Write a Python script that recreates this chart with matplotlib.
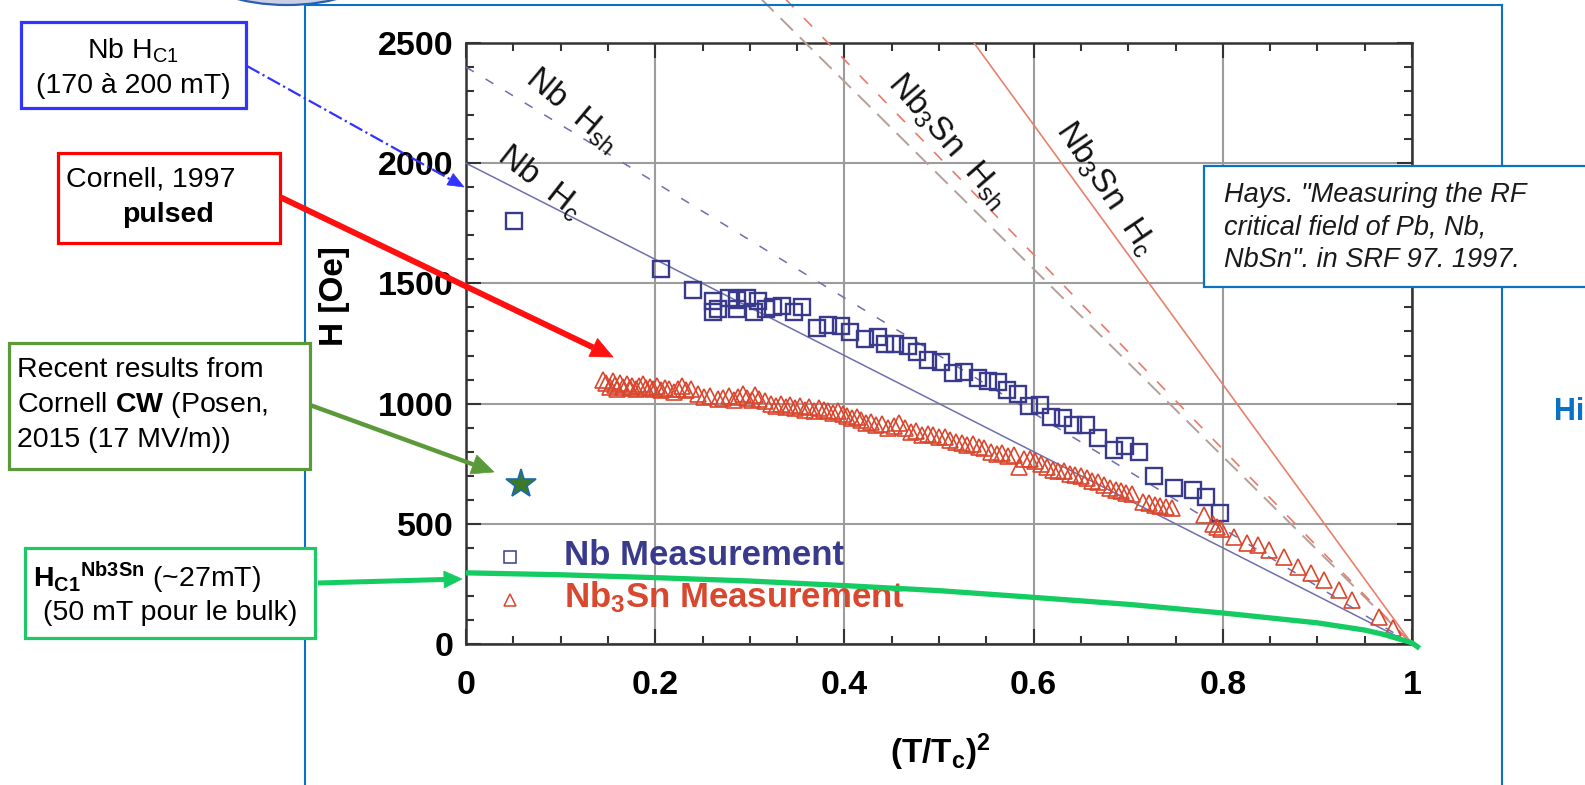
import matplotlib
matplotlib.use('Agg')
import matplotlib.pyplot as plt
from matplotlib.patches import Rectangle, Ellipse, Polygon
from matplotlib.ticker import MultipleLocator
import numpy as np

plt.rcParams['font.family'] = ['Liberation Sans', 'DejaVu Sans']
plt.rcParams['mathtext.fontset'] = 'custom'
plt.rcParams['mathtext.rm'] = 'Liberation Sans'
plt.rcParams['mathtext.it'] = 'Liberation Sans:italic'
plt.rcParams['mathtext.bf'] = 'Liberation Sans:bold'

# ---------------- data ----------------
x_ticks = [0, 0.2, 0.4, 0.6, 0.8, 1.0]
x_tick_labels = ['0', '0.2', '0.4', '0.6', '0.8', '1']
y_ticks = [0, 500, 1000, 1500, 2000, 2500]
y_tick_labels = ['0', '500', '1000', '1500', '2000', '2500']

nb_x = [0.051, 0.206, 0.240, 0.261, 0.261, 0.266, 0.278, 0.286, 0.286, 0.297,
        0.304, 0.309, 0.317, 0.325, 0.334, 0.347, 0.355, 0.371, 0.383, 0.396,
        0.406, 0.422, 0.436, 0.443, 0.454, 0.467, 0.477, 0.488, 0.502, 0.515,
        0.526, 0.541, 0.552, 0.562, 0.572, 0.583, 0.595, 0.607, 0.618, 0.631,
        0.642, 0.655, 0.668, 0.685, 0.697, 0.711, 0.727, 0.748, 0.768, 0.782,
        0.797]
nb_h = [1758, 1558, 1471, 1425, 1383, 1392, 1441, 1433, 1392, 1441,
        1379, 1425, 1392, 1400, 1404, 1379, 1400, 1313, 1329, 1321,
        1296, 1267, 1275, 1246, 1246, 1238, 1213, 1183, 1175, 1129,
        1133, 1108, 1092, 1088, 1058, 1038, 988, 996, 946, 942,
        913, 913, 858, 808, 825, 800, 700, 650, 642, 613,
        546]

sn_x = [0.145, 0.148, 0.152, 0.155, 0.158, 0.160, 0.163, 0.166, 0.170, 0.173,
        0.176, 0.180, 0.183, 0.187, 0.190, 0.194, 0.198, 0.202, 0.206, 0.210,
        0.215, 0.220, 0.224, 0.228, 0.233, 0.238, 0.245, 0.252, 0.258, 0.266,
        0.272, 0.278, 0.283, 0.288, 0.293, 0.297, 0.302, 0.306, 0.310, 0.316,
        0.322, 0.328, 0.333, 0.338, 0.343, 0.348, 0.353, 0.358, 0.363, 0.368,
        0.373, 0.378, 0.383, 0.388, 0.393, 0.398, 0.403, 0.408, 0.413, 0.418,
        0.423, 0.428, 0.433, 0.440, 0.446, 0.452, 0.458, 0.464, 0.470, 0.476,
        0.482, 0.488, 0.494, 0.500, 0.506, 0.512, 0.518, 0.524, 0.530, 0.536,
        0.542, 0.548, 0.555, 0.561, 0.567, 0.573, 0.579, 0.585, 0.590, 0.596,
        0.602, 0.608, 0.614, 0.620, 0.626, 0.632, 0.638, 0.644, 0.650, 0.656,
        0.662, 0.668, 0.674, 0.681, 0.687, 0.692, 0.698, 0.704, 0.716, 0.722,
        0.728, 0.734, 0.740, 0.746, 0.780, 0.790, 0.794, 0.798, 0.812, 0.826,
        0.837, 0.849, 0.865, 0.879, 0.893, 0.907, 0.923, 0.937, 0.965, 0.980]
sn_h = [1100, 1085, 1070, 1092, 1078, 1062, 1085, 1070, 1080, 1066,
        1075, 1060, 1072, 1080, 1064, 1070, 1062, 1074, 1058, 1066,
        1060, 1050, 1062, 1075, 1055, 1060, 1040, 1028, 1030, 1018,
        1022, 1030, 1015, 1026, 1040, 1022, 1015, 1035, 1020, 1010,
        1000, 992, 1000, 985, 995, 980, 990, 975, 985, 970,
        982, 975, 968, 960, 970, 958, 950, 940, 945, 930,
        920, 925, 910, 915, 900, 905, 918, 900, 880, 885,
        870, 875, 868, 860, 862, 850, 840, 835, 828, 832,
        820, 815, 800, 790, 795, 780, 786, 735, 770, 768,
        760, 748, 738, 725, 720, 718, 708, 704, 700, 690,
        680, 672, 660, 650, 640, 635, 628, 625, 590, 585,
        580, 575, 570, 565, 537, 500, 487, 478, 446, 421,
        412, 392, 362, 321, 296, 267, 225, 183, 112, 67]

star_x = [0.058]
star_h = [667]

hc1_x = [0.0, 0.1, 0.2, 0.3, 0.4, 0.5, 0.6, 0.7, 0.8, 0.9, 0.95, 0.97, 1.0, 1.008]
hc1_h = [296, 288, 276, 262, 243, 222, 194, 165, 129, 88, 58, 40, 5, -18]

nb_hc_x, nb_hc_h = [0.0, 1.0], [2000, 0]
nb_hsh_x, nb_hsh_h = [0.0, 1.0], [2400, 0]
sn_hsh_a_x, sn_hsh_a_h = [0.30, 1.0], [2730, 0]
sn_hsh_b_x, sn_hsh_b_h = [0.33, 1.0], [2714, 0]
sn_hc_x, sn_hc_h = [0.0, 1.0], [5400, 0]

# ---------------- figure ----------------
W, H = 1585, 785
fig = plt.figure(figsize=(W / 100, H / 100), dpi=100)
fig.patch.set_facecolor('white')

ax = fig.add_axes([466 / W, 1 - 644 / H, 946 / W, 601 / H], zorder=2)
ax.set_xlim(0, 1)
ax.set_ylim(0, 2500)
ax.grid(True, which='major', color='#9c9c9c', lw=1.5)
ax.set_axisbelow(True)
for s in ax.spines.values():
    s.set_color('#333333')
    s.set_linewidth(1.8)
ax.xaxis.set_minor_locator(MultipleLocator(0.05))
ax.yaxis.set_minor_locator(MultipleLocator(100))
ax.tick_params(which='both', direction='in', top=True, right=True,
               color='#333333', width=1.5)
ax.tick_params(which='major', length=11)
ax.tick_params(which='minor', length=6)
ax.set_xticks(x_ticks, x_tick_labels, fontsize=24.5, fontweight='bold')
ax.set_yticks(y_ticks, y_tick_labels, fontsize=24.5, fontweight='bold')
ax.tick_params(axis='x', which='major', pad=19)
ax.tick_params(axis='y', which='major', pad=9)

navy = '#3a3a8c'
nbline = '#6f6fae'
red = '#d9472e'

# theory lines
ax.plot(nb_hc_x, nb_hc_h, color=nbline, lw=1.1, zorder=3)
ax.plot(nb_hsh_x, nb_hsh_h, color=nbline, lw=1.1, dashes=(6, 9), zorder=3)
ax.plot(sn_hsh_a_x, sn_hsh_a_h, color='#b3a098', lw=1.4, dashes=(9, 5),
        clip_on=False, zorder=3)
ax.plot(sn_hsh_b_x, sn_hsh_b_h, color='#e97a68', lw=1.2, dashes=(7, 9),
        clip_on=False, zorder=3)
ax.plot(sn_hc_x, sn_hc_h, color='#e8806c', lw=1.2, zorder=3)

# data
ax.plot(nb_x, nb_h, 's', mfc='none', mec=navy, mew=1.7, ms=12, zorder=4)
ax.plot(sn_x, sn_h, '^', mfc='none', mec=red, mew=1.2, ms=11, zorder=4)
ax.plot(star_x, star_h, '*', mfc='#3b7a2a', mec='#1a6ab0', mew=1.2, ms=22,
        zorder=5)
ax.plot(hc1_x, hc1_h, color='#14cc62', lw=3.8, clip_on=False, zorder=6,
        solid_capstyle='butt')

# legend
ax.plot([0.047], [362], 's', mfc='none', mec=navy, mew=1.1, ms=8.5)
ax.plot([0.047], [185], '^', mfc='none', mec=red, mew=1.1, ms=8.5)
ax.text(0.104, 367, 'Nb Measurement', color=navy, fontsize=25,
        fontweight='bold', va='center', ha='left')
ax.text(0.104, 194, r'Nb$_{\mathbf{3}}$Sn Measurement', color=red,
        fontsize=25, fontweight='bold', va='center', ha='left')

# rotated line labels
lab = dict(color='#111111', fontsize=24, ha='center', va='center',
           rotation_mode='anchor')
ax.text(0.112, 2222, r'Nb  H$_{\mathrm{sh}}$', rotation=-40, **lab)
ax.text(0.078, 1922, r'Nb  H$_{\mathrm{c}}$', rotation=-38, **lab)
ax.text(0.509, 2095, r'Nb$_{\mathrm{3}}$Sn  H$_{\mathrm{sh}}$', rotation=-49, **lab)
ax.text(0.676, 1895, r'Nb$_{\mathrm{3}}$Sn  H$_{\mathrm{c}}$', rotation=-56, **lab)

# ---------------- overlay (slide decorations, pixel coords) ----------------
ov = fig.add_axes([0, 0, 1, 1], zorder=5)
ov.set_xlim(0, W)
ov.set_ylim(H, 0)
ov.axis('off')
ov.patch.set_alpha(0)

blue_frame = '#0a72c4'
ov.plot([305, 305], [5, H], color=blue_frame, lw=1.5)
ov.plot([305, 1502], [5, 5], color=blue_frame, lw=1.5)
ov.plot([1502, 1502], [5, H], color=blue_frame, lw=1.5)
ov.add_patch(Ellipse((287, -28), 172, 66, facecolor='#c9cfe4',
                     edgecolor='#2a5db0', lw=1.6, clip_on=False))

# Hays reference box
ov.add_patch(Rectangle((1204, 166), 420, 121, facecolor='white',
                       edgecolor=blue_frame, lw=1.6, zorder=3))
hays = ['Hays. "Measuring the RF', 'critical field of Pb, Nb,',
        'NbSn". in SRF 97. 1997.']
for i, t in enumerate(hays):
    ov.text(1224, 195 + 32.5 * i, t, fontsize=19.5, style='italic',
            color='#1a1a1a', va='center', ha='left', zorder=4)
ov.text(1554, 412, 'Hi', fontsize=22, fontweight='bold', color=blue_frame,
        va='center', ha='left')

# annotation boxes
def box(x0, y0, x1, y1, color):
    ov.add_patch(Rectangle((x0, y0), x1 - x0, y1 - y0, facecolor='white',
                           edgecolor=color, lw=2.3, zorder=3))

def arrow(start, tip, color, lw, hl, hw, ls='-'):
    sx, sy = start
    tx, ty = tip
    d = np.array([tx - sx, ty - sy], dtype=float)
    u = d / np.hypot(*d)
    n = np.array([-u[1], u[0]])
    base = np.array([tx, ty]) - hl * u
    ov.plot([sx, base[0]], [sy, base[1]], color=color, lw=lw, ls=ls,
            solid_capstyle='butt', zorder=6)
    ov.add_patch(Polygon([[tx, ty], base + hw * n, base - hw * n],
                         closed=True, facecolor=color, edgecolor=color,
                         lw=0.5, zorder=6))

fs = 20.5
# Nb Hc1
box(21, 22, 246, 108, '#3333ff')
ov.text(133, 51, r'Nb H$_{\mathrm{C1}}$', fontsize=fs, ha='center', va='center', zorder=4)
ov.text(133, 86, '(170 à 200 mT)', fontsize=fs, ha='center', va='center', zorder=4)
arrow((247, 66), (464, 187), '#3333ff', 1.6, 16, 6.5, ls='-.')

# Cornell pulsed
box(58, 153, 280, 243, '#ff0000')
ov.text(66, 179, 'Cornell, 1997', fontsize=fs, ha='left', va='center', zorder=4)
ov.text(168, 215, 'pulsed', fontsize=fs, fontweight='bold', ha='center',
        va='center', zorder=4)
arrow((280, 197), (613, 357), '#ff1010', 4.3, 22, 10)

# Recent results
box(9, 343, 310, 469, '#5b9a3a')
ov.text(17, 370, 'Recent results from', fontsize=fs, ha='left', va='center', zorder=4)
ov.text(17, 405, r'Cornell $\mathbf{CW}$ (Posen,', fontsize=fs, ha='left',
        va='center', zorder=4)
ov.text(17, 440, '2015 (17 MV/m))', fontsize=fs, ha='left', va='center', zorder=4)
arrow((310, 405), (494, 472), '#5b9a3a', 3.2, 22, 10)

# Hc1 Nb3Sn
box(25, 548, 315, 638, '#1ec864')
ov.text(33, 578, r'$\mathbf{H}_{\mathbf{C1}}{}^{\mathbf{Nb3Sn}}$ (~27mT)',
        fontsize=fs, ha='left', va='center', zorder=4)
ov.text(43, 613, '(50 mT pour le bulk)', fontsize=fs, ha='left',
        va='center', zorder=4)
arrow((318, 583), (462, 579), '#14cc62', 3.6, 18, 8.5)

# axis labels (slide-placed)
ov.text(334, 296, 'H [Oe]', fontsize=24, fontweight='bold', rotation=90,
        ha='center', va='center')
ov.text(940, 752, r'(T/T$_{\mathbf{c}}$)$^{\mathbf{2}}$', fontsize=24,
        fontweight='bold', ha='center', va='center')

fig.savefig('out.png', dpi=100, facecolor='white')
